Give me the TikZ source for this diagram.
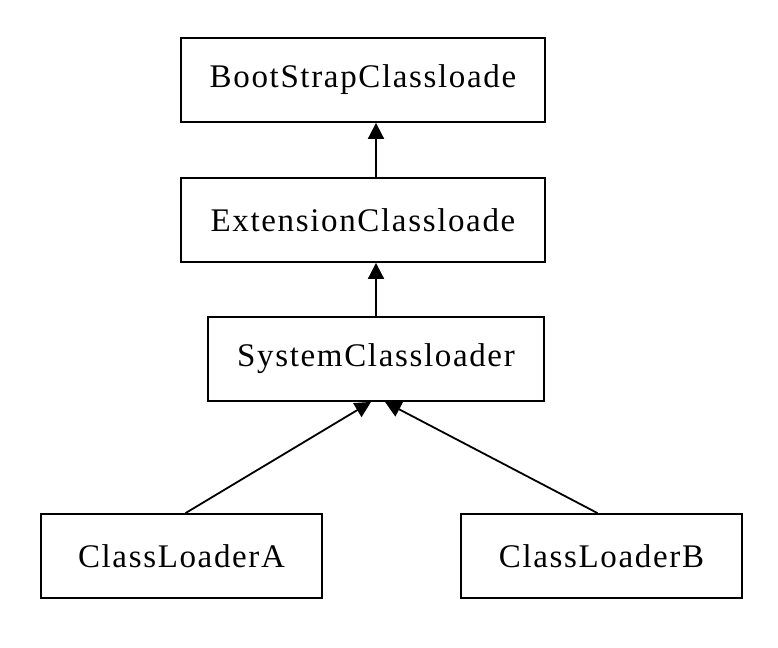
\documentclass[tikz,border=0pt]{standalone}
\usepackage{fontspec}
\setmainfont[LetterSpace=5]{Liberation Serif}
\usetikzlibrary{arrows.meta}
\begin{document}
\begin{tikzpicture}[x=1pt,y=-1pt,
	box/.style={draw,line width=1.8pt,inner sep=0pt,minimum height=84pt,font=\fontsize{33}{36}\selectfont},
	arr/.style={line width=1.8pt,-{Triangle[width=16pt,length=16pt]}}]
		\useasboundingbox (0,0) rectangle (778,647);
		\node[box,minimum width=364pt] (boot) at (363,80) {BootStrapClassloade};
		\node[box,minimum width=364pt] (ext) at (363,220) {ExtensionClassloade};
		\node[box,minimum width=336pt] (sys) at (376,359) {SystemClassloader};
		\node[box,minimum width=281pt] (cla) at (181.5,556) {ClassLoaderA};
		\node[box,minimum width=281pt] (clb) at (601.5,556) {ClassLoaderB};
		\draw[arr] (ext.north -| sys.south) -- (boot.south -| sys.south);
		\draw[arr] (sys.north) -- (ext.south -| sys.north);
		\draw[arr] ([xshift=4pt]cla.north) -- ([xshift=-5pt]sys.south);
		\draw[arr] ([xshift=-4pt]clb.north) -- ([xshift=9pt]sys.south);
		\end{tikzpicture}
\end{document}
